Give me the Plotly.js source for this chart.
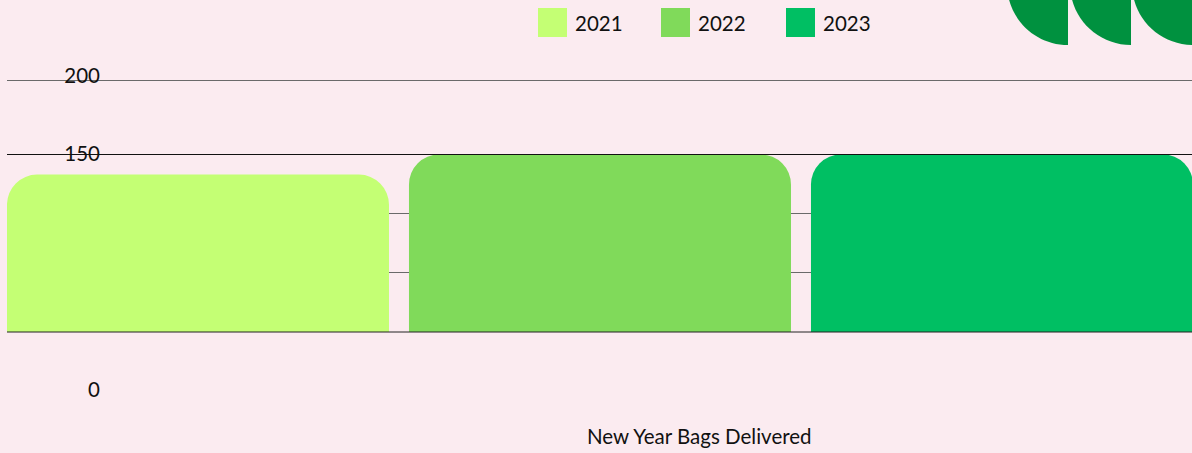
<!DOCTYPE html>
<html>
<head>
<meta charset="utf-8">
<script src="https://cdn.plot.ly/plotly-3.0.1.min.js"></script>
<style>
  html, body { margin: 0; padding: 0; background: #FBEBF0; }
  #chart { width: 1192px; height: 453px; }
</style>
</head>
<body>
<div id="chart"></div>
<script>
// ---- data ----
const years = ['2021', '2022', '2023'];
const bagsDelivered = [133, 150, 150];
const category = ['New Year Bags Delivered'];
const yTickVals = [0, 150, 200];
const yTickText = ['0', '150', '200'];
const seriesColors = ['#C4FF74', '#80DA5A', '#00BF63'];

// ---- geometry helpers (figure pixels -> paper) ----
const W = 1192, H = 453, L = 7;
const px = v => (v - L) / (W - L);
const py = v => (H - v) / H;
const FONT = 'Lato, "Liberation Sans", sans-serif';

const traces = years.map((yr, i) => ({
  type: 'bar',
  x: category,
  y: [bagsDelivered[i]],
  name: yr,
  yaxis: 'y',
  marker: { color: seriesColors[i], cornerradius: 30, line: { width: 0 } },
  showlegend: false,
  hovertemplate: yr + ': %{y}<extra></extra>'
}));
// empty carrier so the label axis (y2) is drawn; it has no visible mark
traces.push({ type: 'scatter', mode: 'markers', x: category, y: [null],
  yaxis: 'y2', showlegend: false, hoverinfo: 'skip' });

const shapes = [];
const annotations = [];

// gridline overlays
shapes.push({ type: 'line', xref: 'paper', yref: 'paper', x0: 0, x1: 1, y0: py(80.5), y1: py(80.5),
  line: { color: '#6a6a6a', width: 1 }, layer: 'below' });
shapes.push({ type: 'line', xref: 'paper', yref: 'y', x0: 0, x1: 1, y0: 150, y1: 150,
  line: { color: '#111111', width: 1 }, layer: 'above' });
shapes.push({ type: 'line', xref: 'paper', yref: 'y', x0: 0, x1: 1, y0: 0, y1: 0,
  line: { color: '#222222', width: 1 }, layer: 'above' });

// decorative quarter circles (top right)
const k = 0.5523, r = 61, cy = -16;
[1068, 1131, 1193].forEach(cx => {
  const p = [
    'M', px(cx), py(cy),
    'L', px(cx - r), py(cy),
    'C', px(cx - r), py(cy + k * r), px(cx - k * r), py(cy + r), px(cx), py(cy + r),
    'Z'
  ].join(' ');
  shapes.push({ type: 'path', xref: 'paper', yref: 'paper', path: p,
    fillcolor: '#00913F', line: { width: 0 }, layer: 'above' });
});

// custom legend built from series
const legendSquareX = [538, 661, 786];
years.forEach((yr, i) => {
  const x0 = legendSquareX[i];
  shapes.push({ type: 'rect', xref: 'paper', yref: 'paper',
    x0: px(x0), x1: px(x0 + 29), y0: py(37), y1: py(8),
    fillcolor: seriesColors[i], line: { width: 0 }, layer: 'above' });
  annotations.push({ xref: 'paper', yref: 'paper', x: px(x0 + 35), y: py(23),
    xanchor: 'left', yanchor: 'middle', showarrow: false, text: yr,
    font: { family: FONT, size: 20.5, color: '#111111' } });
});

// category / axis title
annotations.push({ xref: 'paper', yref: 'paper', x: px(699), y: py(436),
  xanchor: 'center', yanchor: 'middle', showarrow: false, text: category[0],
  font: { family: FONT, size: 20.5, color: '#111111' } });

// main axis: 0 at 332px, 150 at 154.5px
const kMain = (332 - 154.5) / 150;
const r0 = -(H - 332) / kMain;
const r1 = r0 + H / kMain;
// label axis: 0 at 390px, 150 at 154px
const kLab = (390 - 154) / 150;
const l0 = -(H - 390) / kLab;
const l1 = l0 + H / kLab;

const layout = {
  width: W, height: H,
  margin: { l: L, r: 0, t: 0, b: 0, pad: 0 },
  paper_bgcolor: '#FBEBF0',
  plot_bgcolor: '#FBEBF0',
  barmode: 'group',
  bargap: 0,
  bargroupgap: 0.04975,
  showlegend: false,
  xaxis: { range: [-0.4917, 0.4909], showticklabels: false, showgrid: false,
    zeroline: false, showline: false, ticks: '', fixedrange: true },
  yaxis: { range: [r0, r1], tickvals: [50, 100], showticklabels: false,
    showgrid: true, gridcolor: '#6a6a6a', gridwidth: 1, zeroline: false,
    showline: false, ticks: '', fixedrange: true },
  yaxis2: { overlaying: 'y', anchor: 'free', position: px(100), side: 'left',
    range: [l0, l1], tickvals: yTickVals, ticktext: yTickText,
    showgrid: false, zeroline: false, showline: false, ticks: '',
    tickfont: { family: FONT, size: 20.5, color: '#111111' }, fixedrange: true },
  shapes: shapes,
  annotations: annotations,
  font: { family: FONT }
};

Plotly.newPlot('chart', traces, layout, { displayModeBar: false, staticPlot: true });
</script>
</body>
</html>
